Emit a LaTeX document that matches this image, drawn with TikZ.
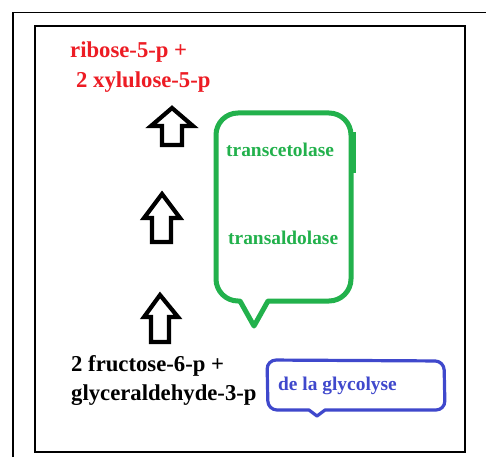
\documentclass[tikz,border=0pt]{standalone}
\usepackage{fontspec}
\setmainfont{Liberation Serif}
\definecolor{pred}{RGB}{237,28,36}
\definecolor{pgreen}{RGB}{34,177,76}
\definecolor{pblue}{RGB}{63,72,204}
\tikzset{
  lbl/.style={inner sep=0pt, anchor=base west, font=\bfseries\fontsize{22.7}{26}\selectfont},
  enz/.style={inner sep=0pt, anchor=base west, font=\bfseries\fontsize{19.4}{23}\selectfont},
  frame/.style={draw=black, line width=1.5pt},
  blockarrow/.style={draw=black, line width=4.2pt, line join=miter, fill=white},
  gbubble/.style={draw=pgreen, line width=5pt, line join=round},
  bbubble/.style={draw=pblue, line width=3.2pt, line join=round},
}
\begin{document}
\begin{tikzpicture}[x=1pt,y=-1pt]
\useasboundingbox (0,0) rectangle (486,457);
\fill[white] (0,0) rectangle (486,457);
% frames
\draw[frame] (13,457) -- (13,12.5) -- (486,12.5);
\draw[frame] (35,26) rectangle (465,452);
% arrows
\draw[blockarrow] (172,108) -- (193,126) -- (182,126) -- (182,145) -- (162,145) -- (162,126) -- (151,126) -- cycle;
\draw[blockarrow] (162,194) -- (180,218) -- (171,218) -- (171,242) -- (152,242) -- (152,218) -- (144,218) -- cycle;
\draw[blockarrow] (160,295) -- (178,317) -- (169,317) -- (169,342) -- (151,342) -- (151,317) -- (144,317) -- cycle;
% green bubble
\draw[gbubble] (254,326) -- (268,301) [rounded corners=22pt] -- (351,301) -- (351,113) -- (216,113) -- (216,301) [rounded corners=0pt] -- (240,301) -- cycle;
\draw[pgreen, line width=4pt] (354,132) -- (354,173);
% blue bubble
\draw[bbubble] (317,416) -- (325,410) [rounded corners=9pt] -- (445,410) -- (444,361) -- (267,360) -- (268,410) [rounded corners=0pt] -- (309,410) -- cycle;
% texts
\node[lbl, text=pred] (r1) at (70,58) {ribose-5-p +};
\node[lbl, text=pred] (r2) at (76,88) {2 xylulose-5-p};
\node[lbl] (f1) at (71,371) {2 fructose-6-p +};
\node[lbl] (f2) at (71,400) {glyceraldehyde-3-p};
\node[enz, text=pgreen] (e1) at (226,157) {transcetolase};
\node[enz, text=pgreen] (e2) at (228,244) {transaldolase};
\node[enz, text=pblue] (g1) at (278,390) {de la glycolyse};
\end{tikzpicture}
\end{document}
